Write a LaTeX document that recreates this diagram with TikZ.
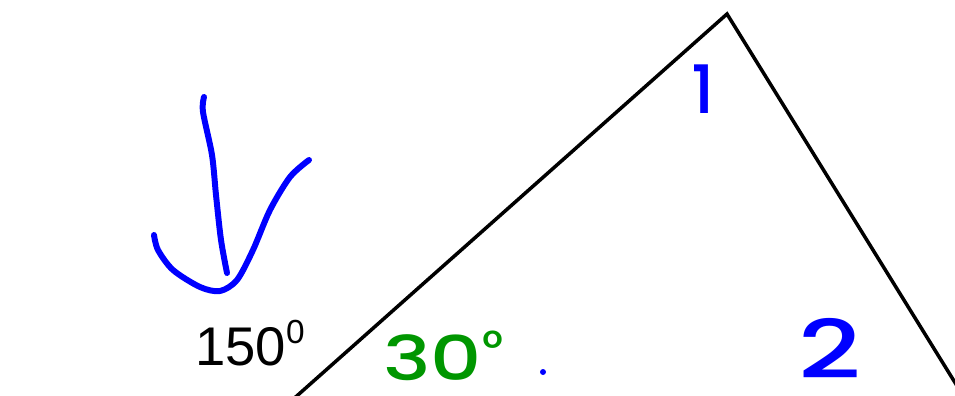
\documentclass[tikz,border=0pt]{standalone}
\usepackage{fontspec}
\setmainfont{Liberation Sans}
\newfontfamily\handfont{Poppins}[UprightFont=* Medium]
\usepackage{xcolor}
\usepackage{tikz}
\usetikzlibrary{positioning}

\definecolor{penblue}{RGB}{0,0,255}
\definecolor{pengreen}{RGB}{0,150,0}

\begin{document}
\begin{tikzpicture}[
  x=0.02cm, y=-0.02cm,
  edge/.style={line width=2pt, line join=miter},
  ink/.style={penblue, line width=3.4pt, line cap=round, line join=round},
  hand/.style={font=\handfont, inner sep=0pt},
  lbl/.style={font=\fontsize{31}{37}\selectfont, inner sep=0pt}
]
\useasboundingbox (0,0) rectangle (955,395);
\begin{scope}
\clip (0,0) rectangle (955,395);
% triangle
\coordinate (left)  at (290,402);
\coordinate (top)   at (727,14);
\coordinate (right) at (967,402);
\draw[edge] (left) -- (top) -- (right);
\end{scope}

% hand-drawn arrow
\draw[ink] plot[smooth] coordinates {(204,97) (203,112) (212,155) (216,195) (221,240) (227,273)};
\draw[ink] plot[smooth] coordinates {(154,235) (158,250) (173,270) (200,287) (220,291) (237,280) (253,250) (270,210) (290,177) (309,160)};

\node[lbl, anchor=base west] (ext) at (195,365)
  {150\raisebox{12pt}{\fontsize{19}{19}\selectfont 0}};

\node[hand, pengreen, anchor=base west] (ang) at (383,380)
  {\fontsize{35}{40}\selectfont\scalebox{1.3}[1]{30}\raisebox{8pt}{\fontsize{28}{30}\selectfont °}};
\fill[penblue] (543,372) circle (3);

\node[hand, penblue, anchor=base] (one) at (703,113) {\fontsize{38}{44}\selectfont 1};
\node[hand, penblue, anchor=base] (two) at (830,378) {\fontsize{46}{52}\selectfont\scalebox{1.35}[1]{2}};
\end{tikzpicture}
\end{document}
